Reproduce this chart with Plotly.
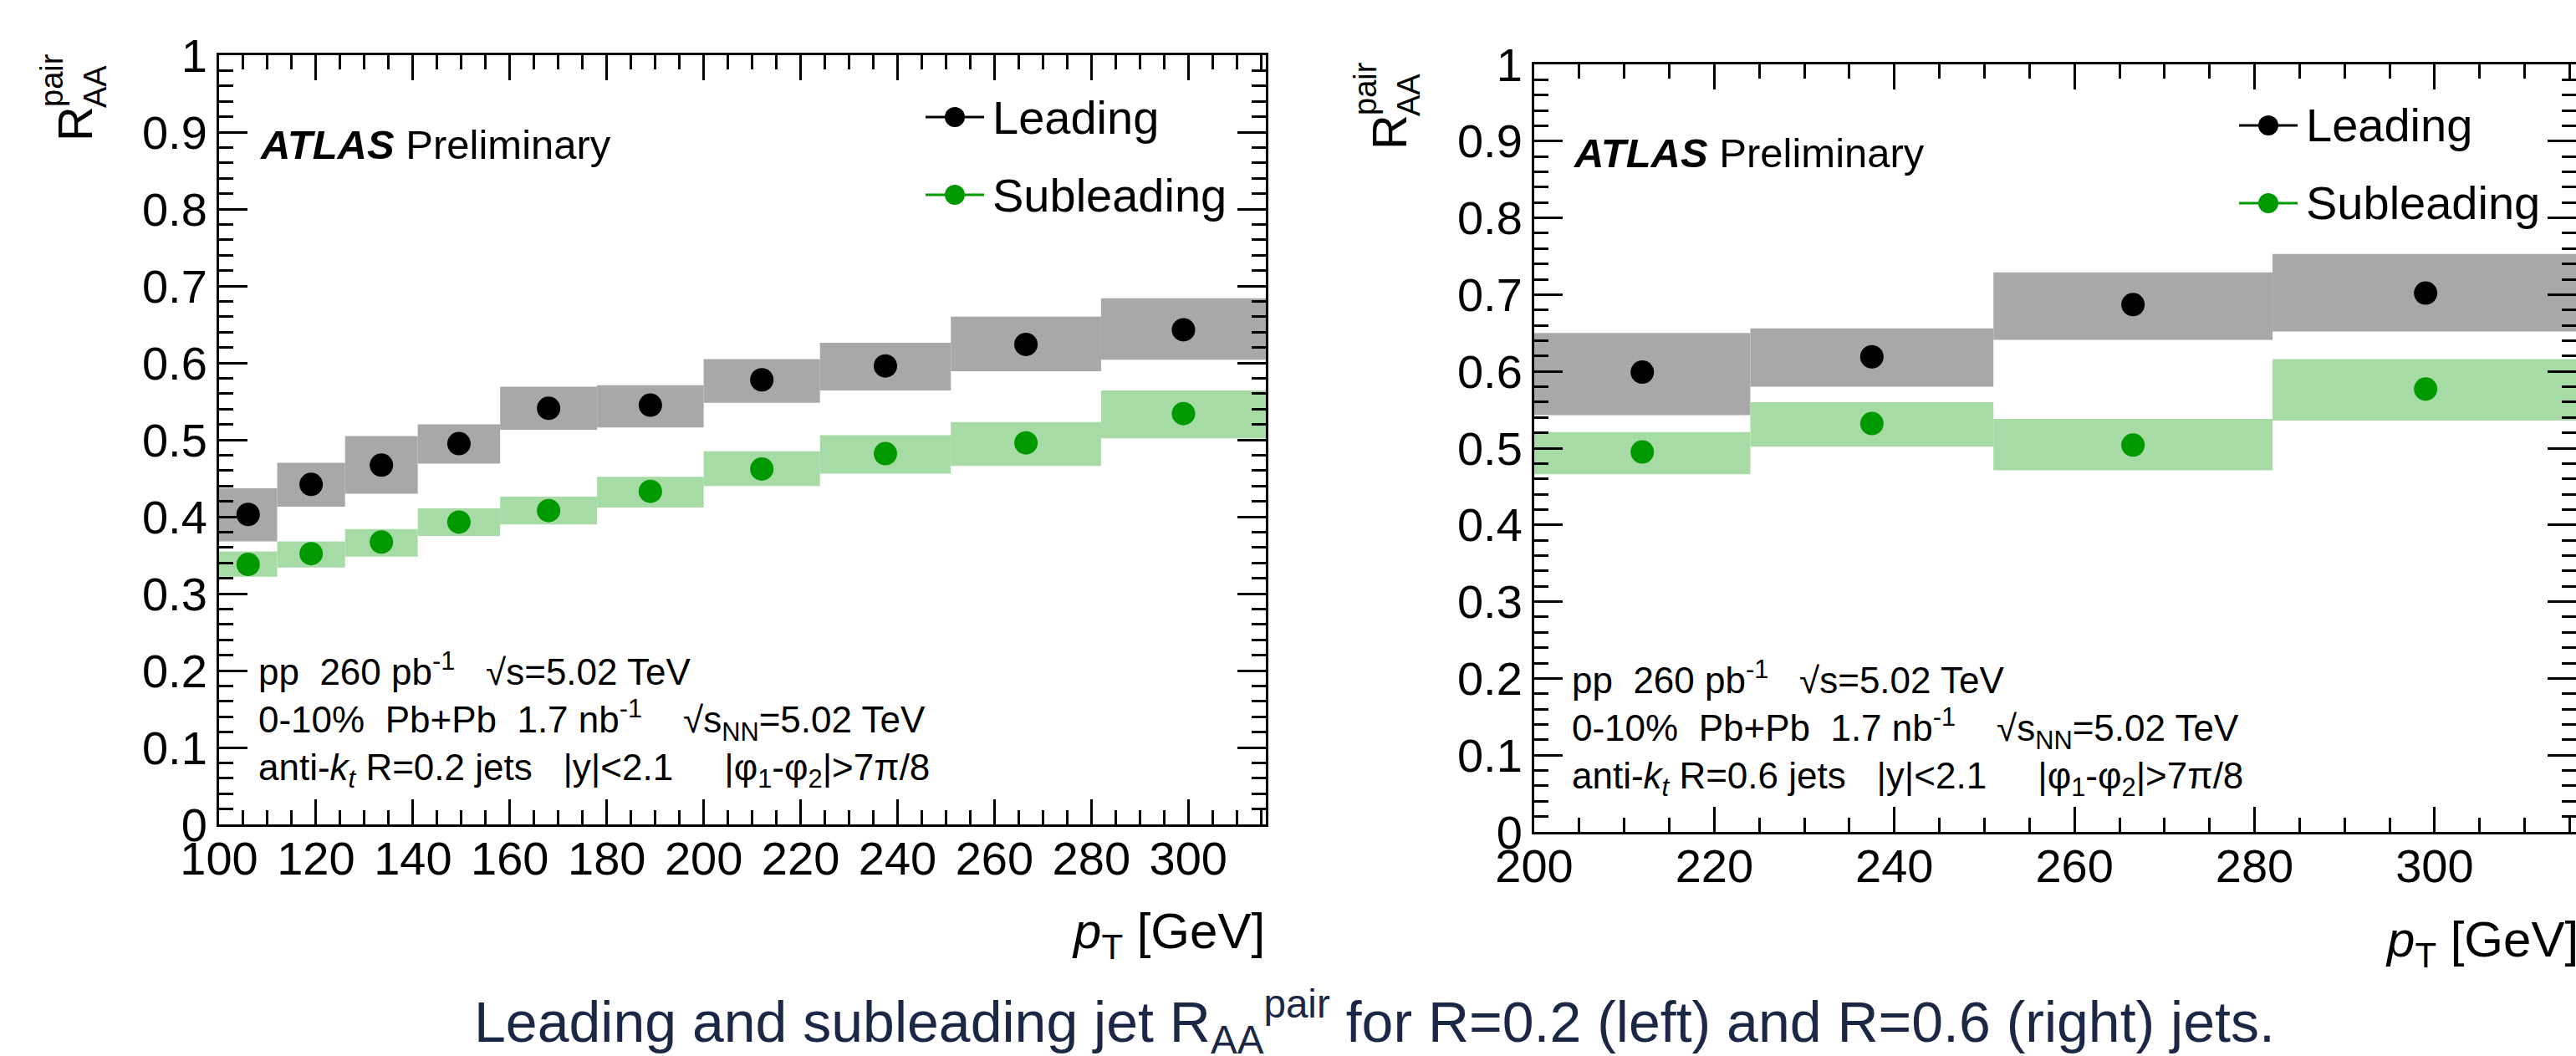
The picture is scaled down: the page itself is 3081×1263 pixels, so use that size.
import plotly.graph_objects as go

W, H = 3081, 1263

# ---------------- data ----------------
# R = 0.2 (left panel)
edges_r02 = [100, 112, 126, 141, 158, 178, 200, 224, 251, 282, 316]
lead_r02 = [0.403, 0.442, 0.467, 0.495, 0.541, 0.545, 0.578, 0.596, 0.624, 0.643]
lead_r02_lo = [0.368, 0.413, 0.430, 0.469, 0.513, 0.516, 0.548, 0.564, 0.589, 0.604]
lead_r02_hi = [0.437, 0.470, 0.505, 0.520, 0.569, 0.571, 0.605, 0.626, 0.660, 0.684]
sub_r02 = [0.338, 0.352, 0.367, 0.393, 0.408, 0.433, 0.462, 0.482, 0.496, 0.534]
sub_r02_lo = [0.322, 0.334, 0.348, 0.375, 0.390, 0.412, 0.440, 0.456, 0.466, 0.502]
sub_r02_hi = [0.355, 0.368, 0.384, 0.411, 0.426, 0.452, 0.485, 0.506, 0.523, 0.564]

# R = 0.6 (right panel)
edges_r06 = [200, 224, 251, 282, 316]
lead_r06 = [0.599, 0.619, 0.687, 0.702]
lead_r06_lo = [0.543, 0.580, 0.641, 0.652]
lead_r06_hi = [0.650, 0.656, 0.729, 0.753]
sub_r06 = [0.495, 0.532, 0.504, 0.577]
sub_r06_lo = [0.466, 0.502, 0.471, 0.536]
sub_r06_hi = [0.521, 0.560, 0.538, 0.616]

y_ticks = [0, 0.1, 0.2, 0.3, 0.4, 0.5, 0.6, 0.7, 0.8, 0.9, 1]

GREY = "#a8a8a8"
LGREEN = "#a6dba6"
GREEN = "#009900"
FONT = "Liberation Sans, Arial, sans-serif"


def px(x):
    return x / W


def py(y):
    return 1 - y / H


def centers(edges):
    return [(edges[i] + edges[i + 1]) / 2 for i in range(len(edges) - 1)]


def widths(edges):
    return [edges[i + 1] - edges[i] for i in range(len(edges) - 1)]


fig = go.Figure()


def add_panel(edges, lead, lead_lo, lead_hi, sub, sub_lo, sub_hi, xa, ya):
    c = centers(edges)
    w = widths(edges)
    fig.add_trace(go.Bar(x=c, y=[h - l for h, l in zip(lead_hi, lead_lo)], base=lead_lo,
                         width=w, marker=dict(color=GREY, line=dict(width=0)), opacity=1,
                         showlegend=False, xaxis=xa, yaxis=ya, hoverinfo="skip"))
    fig.add_trace(go.Bar(x=c, y=[h - l for h, l in zip(sub_hi, sub_lo)], base=sub_lo,
                         width=w, marker=dict(color=LGREEN, line=dict(width=0)), opacity=1,
                         showlegend=False, xaxis=xa, yaxis=ya, hoverinfo="skip"))
    fig.add_trace(go.Scatter(x=c, y=lead, mode="markers", name="Leading",
                             marker=dict(size=28, color="black"),
                             showlegend=False, xaxis=xa, yaxis=ya))
    fig.add_trace(go.Scatter(x=c, y=sub, mode="markers", name="Subleading",
                             marker=dict(size=28, color=GREEN),
                             showlegend=False, xaxis=xa, yaxis=ya))


add_panel(edges_r02, lead_r02, lead_r02_lo, lead_r02_hi, sub_r02, sub_r02_lo, sub_r02_hi, "x", "y")
add_panel(edges_r06, lead_r06, lead_r06_lo, lead_r06_hi, sub_r06, sub_r06_lo, sub_r06_hi, "x2", "y2")

axis_common = dict(
    showline=True, linecolor="black", linewidth=3, mirror="allticks",
    ticks="inside", tickwidth=2.5, tickcolor="black",
    showgrid=False, zeroline=False, automargin=False,
    tickfont=dict(family=FONT, size=56, color="black"),
)

xa_common = dict(axis_common, ticklen=30, dtick=20, tick0=0, ticklabelstandoff=-10,
                 minor=dict(dtick=5, tick0=0, ticklen=17, ticks="inside", tickwidth=2.5, tickcolor="black"))
ya_common = dict(axis_common, ticklen=34, tickvals=y_ticks,
                 ticktext=[("%g" % v) for v in y_ticks],
                 minor=dict(dtick=0.02, tick0=0, ticklen=17, ticks="inside", tickwidth=2.5, tickcolor="black"))

fig.update_layout(
    width=W, height=H,
    margin=dict(l=0, r=0, t=0, b=0),
    paper_bgcolor="white", plot_bgcolor="white",
    barmode="overlay",
    showlegend=False,
    font=dict(family=FONT, color="black"),
    xaxis=dict(xa_common, domain=[px(262), px(1514)], range=[100, 316], anchor="y"),
    yaxis=dict(ya_common, domain=[py(986), py(66)], range=[0, 1], anchor="x"),
    xaxis2=dict(xa_common, domain=[px(1835), 1.0], range=[200, 315.7], anchor="y2"),
    yaxis2=dict(ya_common, domain=[py(995), py(77)], range=[0, 1], anchor="x2"),
)

annotations = []
shapes = []


def text(x, y, s, size, xanchor="left", yanchor="middle", angle=0, color="black"):
    annotations.append(dict(
        x=px(x), y=py(y), xref="paper", yref="paper", text=s, showarrow=False,
        xanchor=xanchor, yanchor=yanchor, textangle=angle,
        font=dict(family=FONT, size=size, color=color), borderpad=0,
    ))


def panel_decor(dx, dy, rlabel):
    # y-axis title R_AA^pair
    text(90 + dx, 148 + dy, "R", 58, xanchor="center", angle=-90)
    text(114 + dx, 104 + dy, "AA", 38, xanchor="center", angle=-90)
    text(62 + dx, 96 + dy, "pair", 38, xanchor="center", angle=-90)
    # ATLAS label
    text(310 + dx, 173 + dy, "<b><i>ATLAS</i></b> Preliminary", 49)
    # legend
    for (yc, col, name) in [(140, "black", "Leading"), (233, GREEN, "Subleading")]:
        shapes.append(dict(type="line", xref="paper", yref="paper",
                           x0=px(1107 + dx), x1=px(1177 + dx), y0=py(yc + dy), y1=py(yc + dy),
                           line=dict(color=col, width=3)))
        shapes.append(dict(type="circle", xref="paper", yref="paper",
                           x0=px(1142 + dx - 12), x1=px(1142 + dx + 12),
                           y0=py(yc + dy + 12), y1=py(yc + dy - 12),
                           fillcolor=col, line=dict(width=0)))
        text(1186 + dx, yc + dy, name, 56)
    # info lines
    text(308 + dx, 800 + dy, "pp  260 pb<sup>-1</sup>   √s=5.02 TeV", 44)
    text(308 + dx, 861 + dy, "0-10%  Pb+Pb  1.7 nb<sup>-1</sup>    √s<sub>NN</sub>=5.02 TeV", 44)
    text(308 + dx, 921 + dy,
         "anti-<i>k</i><sub><i>t</i></sub> R=%s jets   |y|&lt;2.1     |φ<sub>1</sub>-φ<sub>2</sub>|&gt;7π/8" % rlabel, 44)
    # x-axis title
    text(1514 + dx, 1118 + dy, "<i>p</i><sub>T</sub> [GeV]", 60, xanchor="right")


panel_decor(0, 0, "0.2")
panel_decor(1571, 10, "0.6")

# caption
text(566, 1222, "Leading and subleading jet R<sub>AA</sub><sup>pair</sup> for R=0.2 (left) and R=0.6 (right) jets.",
     68, color="#1b2845")

fig.update_layout(annotations=annotations, shapes=shapes)

fig.write_html("out.html", include_plotlyjs=True, config={"displayModeBar": False},
               post_script="document.body.style.margin='0';document.body.style.overflow='hidden';")
